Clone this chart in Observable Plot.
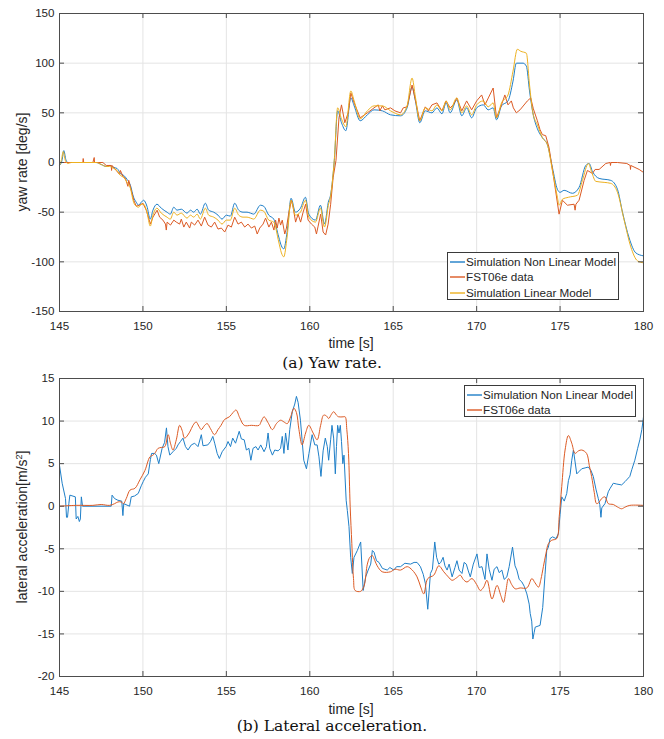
<!DOCTYPE html>
<html>
<head>
<meta charset="utf-8">
<script src="https://cdn.jsdelivr.net/npm/d3@7"></script>
<script src="https://cdn.jsdelivr.net/npm/@observablehq/plot@0.6"></script>
<style>
  html, body { margin: 0; padding: 0; background: #fff; }
  #page { position: relative; width: 664px; height: 739px; overflow: hidden; background: #fff; }
  .abs { position: absolute; }
  .lbl { position: absolute; font-family: "Liberation Sans", Arial, sans-serif; font-size: 14px; color: #262626; white-space: nowrap; transform: translate(-50%, -50%); }
  .cap { position: absolute; font-family: "DejaVu Serif", serif; font-size: 15.5px; color: #111; white-space: nowrap; transform: translate(-50%, -50%); }
  .legend { position: absolute; background: #fff; border: 1px solid #3a3a3a; box-sizing: border-box; font-family: "Liberation Sans", Arial, sans-serif; font-size: 11.7px; color: #262626; }
  .legend .row { position: absolute; left: 0; height: 14px; white-space: nowrap; }
  .legend svg { position: absolute; left: 2px; top: 0; }
  .legend .tx { position: absolute; left: 18px; top: 0; line-height: 14px; }
</style>
</head>
<body>
<div id="page">
  <div id="topPlot" class="abs" style="left:0;top:0"></div>
  <div id="botPlot" class="abs" style="left:0;top:365px"></div>
</div>
<script>
// ---------- shared axis data ----------
const timeTicks = [145, 150, 155, 160, 165, 170, 175, 180];
const yawTicks = [-150, -100, -50, 0, 50, 100, 150];
const latTicks = [-20, -15, -10, -5, 0, 5, 10, 15];
const seriesNames = ["Simulation Non Linear Model", "FST06e data", "Simulation Linear Model"];
const seriesColors = ["#1f7fc8", "#dc5a24", "#edb120"];

// ---------- (a) yaw rate [deg/s] : [time, value] ----------
const yawNonLinear = [[145.0,-3],[145.15,2],[145.26,12],[145.38,3],[145.5,0],[146.5,0],[147.2,0],[147.5,-2],[147.8,-4],[148.0,-3],[148.25,-5],[148.45,-6],[148.65,-11],[148.85,-13],[149.05,-17],[149.25,-23],[149.44,-35],[149.6,-40],[149.74,-43],[149.9,-40],[150.04,-38],[150.24,-44],[150.44,-57],[150.6,-48],[150.84,-42],[151.1,-46],[151.44,-50],[151.64,-52],[151.85,-45],[152.04,-48],[152.3,-47],[152.64,-51],[152.85,-48],[153.04,-50],[153.25,-47],[153.44,-52],[153.74,-41],[153.94,-48],[154.24,-50],[154.5,-53],[154.74,-57],[155.0,-53],[155.24,-54],[155.5,-41],[155.74,-48],[156.0,-50],[156.24,-50],[156.45,-51],[156.64,-52],[157.04,-43],[157.24,-44],[157.54,-53],[157.84,-57],[158.14,-75],[158.3,-84],[158.44,-87],[158.64,-70],[158.88,-36],[159.14,-50],[159.44,-46],[159.74,-35],[159.94,-52],[160.34,-58],[160.64,-43],[160.88,-62],[161.14,-38],[161.2,-36],[161.47,2],[161.67,52],[161.9,40],[162.16,32],[162.46,65],[162.66,57],[163.02,42],[163.45,48],[163.85,53],[164.35,52],[164.84,48],[165.44,47],[165.83,55],[166.13,76],[166.33,62],[166.59,40],[166.92,52],[167.32,50],[167.62,55],[167.92,49],[168.17,60],[168.41,50],[168.81,63],[169.11,47],[169.4,55],[169.7,45],[170.0,55],[170.4,58],[170.69,53],[170.99,55],[171.19,43],[171.49,57],[171.88,62],[172.18,82],[172.38,100],[172.78,100],[172.98,97],[173.17,72],[173.37,50],[173.64,34],[173.94,25],[174.24,18],[174.54,-5],[174.84,-27],[175.0,-30],[175.24,-28],[175.74,-31],[176.14,-25],[176.54,-3],[176.74,-1],[176.94,-9],[177.34,-16],[178.04,-18],[178.44,-27],[178.74,-50],[179.14,-76],[179.54,-91],[180.0,-94]];

const yawData = [[145.0,0],[146.0,0],[146.4,0],[146.42,4],[146.45,0],[147.0,0],[147.08,5],[147.1,0],[147.6,0],[147.8,-3],[148.1,-3],[148.12,-8],[148.15,-3],[148.4,-8],[148.6,-12],[148.65,-8],[148.8,-14],[148.95,-16],[149.1,-24],[149.15,-18],[149.3,-28],[149.45,-38],[149.6,-44],[149.8,-43],[150.0,-41],[150.2,-48],[150.45,-62],[150.6,-55],[150.85,-48],[151.0,-55],[151.2,-58],[151.35,-62],[151.4,-68],[151.45,-60],[151.65,-63],[151.85,-58],[152.0,-60],[152.2,-62],[152.3,-57],[152.45,-65],[152.6,-60],[152.8,-66],[152.9,-60],[153.1,-63],[153.3,-58],[153.5,-64],[153.7,-55],[153.9,-63],[154.1,-65],[154.3,-60],[154.5,-67],[154.7,-66],[154.9,-70],[155.1,-63],[155.3,-65],[155.5,-55],[155.7,-62],[155.9,-60],[156.1,-65],[156.3,-62],[156.5,-66],[156.7,-64],[156.85,-72],[157.0,-66],[157.2,-62],[157.35,-56],[157.55,-65],[157.7,-60],[157.85,-68],[157.95,-58],[158.05,-66],[158.15,-56],[158.25,-63],[158.35,-58],[158.5,-72],[158.6,-66],[158.75,-50],[158.9,-38],[159.0,-45],[159.15,-60],[159.3,-52],[159.45,-60],[159.6,-50],[159.75,-42],[159.9,-58],[160.1,-62],[160.3,-65],[160.4,-72],[160.5,-64],[160.65,-52],[160.8,-70],[160.95,-73],[161.1,-62],[161.25,-42],[161.4,-15],[161.57,2],[161.75,45],[161.9,58],[162.1,40],[162.3,50],[162.46,70],[162.66,60],[163.02,45],[163.45,50],[163.85,55],[164.1,58],[164.2,52],[164.35,57],[164.5,53],[164.84,55],[165.1,52],[165.44,50],[165.6,55],[165.83,56],[166.13,78],[166.33,63],[166.59,42],[166.92,56],[167.1,52],[167.32,58],[167.62,60],[167.92,52],[168.17,62],[168.41,55],[168.6,58],[168.81,65],[169.11,52],[169.4,62],[169.7,53],[170.0,62],[170.3,68],[170.5,58],[170.7,65],[170.99,75],[171.19,45],[171.49,58],[171.69,68],[171.88,58],[172.08,62],[172.2,55],[172.38,50],[172.6,53],[173.04,62],[173.24,65],[173.4,54],[173.64,42],[173.8,33],[173.94,28],[174.14,27],[174.34,15],[174.64,-18],[174.94,-52],[175.14,-38],[175.44,-43],[175.84,-42],[175.9,-48],[175.95,-42],[176.14,-38],[176.44,-18],[176.64,-8],[176.94,-11],[177.1,-7],[177.34,-7],[177.74,-1],[178.0,0],[178.02,-3],[178.05,0],[178.44,0],[179.0,-1],[179.2,-3],[179.22,-7],[179.24,-3],[179.74,-7],[180.0,-10]];

const yawLinear = [[145.0,-3],[145.12,3],[145.22,11],[145.35,2],[145.5,-1],[145.7,0],[147.2,0],[147.5,-2],[147.8,-4],[148.0,-4],[148.25,-6],[148.45,-8],[148.65,-13],[148.85,-15],[149.05,-20],[149.25,-26],[149.44,-40],[149.6,-44],[149.74,-45],[149.9,-42],[150.04,-42],[150.24,-50],[150.44,-64],[150.6,-53],[150.84,-46],[151.1,-51],[151.44,-55],[151.64,-57],[151.85,-50],[152.04,-53],[152.3,-51],[152.64,-56],[152.85,-53],[153.04,-55],[153.25,-52],[153.44,-57],[153.74,-46],[153.94,-53],[154.24,-55],[154.5,-58],[154.74,-62],[155.0,-58],[155.24,-58],[155.5,-46],[155.74,-53],[156.0,-55],[156.24,-55],[156.45,-56],[156.64,-57],[157.04,-48],[157.24,-49],[157.54,-58],[157.84,-60],[158.14,-80],[158.3,-91],[158.44,-95],[158.64,-75],[158.88,-38],[159.14,-53],[159.44,-50],[159.74,-38],[159.94,-55],[160.34,-60],[160.64,-46],[160.88,-65],[161.14,-41],[161.2,-38],[161.47,3],[161.67,55],[161.9,44],[162.16,36],[162.46,72],[162.66,62],[163.02,44],[163.45,52],[163.85,57],[164.35,57],[164.84,52],[165.44,48],[165.83,57],[166.13,85],[166.33,66],[166.59,42],[166.92,55],[167.32,52],[167.62,58],[167.92,52],[168.17,62],[168.41,53],[168.81,65],[169.11,50],[169.4,57],[169.7,48],[170.0,58],[170.4,62],[170.69,56],[170.99,60],[171.19,45],[171.49,60],[171.88,68],[172.18,92],[172.44,114],[172.64,112],[172.98,110],[173.17,78],[173.37,50],[173.64,38],[173.94,25],[174.24,18],[174.54,-8],[174.84,-35],[174.94,-43],[175.14,-37],[175.5,-35],[176.04,-33],[176.34,-18],[176.7,-1],[176.9,-10],[177.14,-19],[177.64,-20],[178.04,-21],[178.44,-30],[178.84,-58],[179.24,-85],[179.64,-99],[180.0,-101]];

// ---------- (b) lateral acceleration [m/s^2] : [time, value] ----------
const latNonLinear = [[145.0,4.8],[145.16,2.7],[145.36,0.9],[145.42,-1.3],[145.48,-1.3],[145.56,0.3],[145.62,1.3],[145.95,1.1],[146.0,-1.5],[146.1,-1.2],[146.19,-1.8],[146.25,-1.5],[146.31,1.1],[146.38,0],[148.1,0],[148.15,1.3],[148.3,0.9],[148.5,0.7],[148.73,0.6],[148.8,-1.1],[148.85,0.3],[149.2,0],[149.3,1.1],[149.5,1.2],[149.72,1.5],[149.9,2.4],[150.02,2.9],[150.15,3.4],[150.32,3.8],[150.45,5.5],[150.52,6.2],[150.7,6.2],[150.81,6.0],[150.95,5.0],[151.15,6.8],[151.3,7.5],[151.41,9.2],[151.5,7.0],[151.61,6.0],[151.8,6.4],[152.0,6.8],[152.1,7.2],[152.25,7.6],[152.4,8.0],[152.55,7.0],[152.7,6.6],[152.9,7.2],[153.1,7.4],[153.3,7.0],[153.5,8.4],[153.6,7.1],[153.89,7.2],[154.05,7.6],[154.19,8.2],[154.3,7.4],[154.45,6.2],[154.58,5.6],[154.75,6.4],[154.98,7.0],[155.1,7.6],[155.25,7.0],[155.38,8.0],[155.55,7.4],[155.77,8.8],[155.9,7.9],[156.07,7.8],[156.2,6.6],[156.35,6.8],[156.47,5.4],[156.6,6.8],[156.77,7.0],[156.9,6.6],[157.06,7.2],[157.26,6.4],[157.4,7.0],[157.5,8.6],[157.6,6.8],[157.76,6.0],[157.9,6.6],[158.1,6.5],[158.25,6.8],[158.35,8.2],[158.45,6.2],[158.55,8.6],[158.69,6.6],[158.8,9.0],[158.95,11.1],[159.1,12.0],[159.2,12.9],[159.3,12.2],[159.44,10.1],[159.55,7.5],[159.64,5.4],[159.8,4.4],[159.95,6.2],[160.14,8.4],[160.3,7.2],[160.44,7.2],[160.55,5.8],[160.67,3.5],[160.8,6.5],[160.93,8.0],[161.05,7.0],[161.13,5.4],[161.25,7.8],[161.33,9.5],[161.43,8.0],[161.53,3.8],[161.6,7.0],[161.67,9.5],[161.75,8.6],[161.83,9.5],[161.9,7.6],[161.98,5.0],[162.05,6.0],[162.18,0.7],[162.25,-0.5],[162.35,-2.4],[162.45,-6.0],[162.55,-7.9],[162.65,-6.0],[162.85,-5.2],[163.05,-4.2],[163.2,-9.9],[163.35,-8.3],[163.5,-7.5],[163.65,-6.8],[163.75,-5.2],[163.85,-5.4],[164.0,-6.4],[164.15,-6.6],[164.35,-7.3],[164.64,-7.5],[164.8,-7.2],[165.04,-7.5],[165.2,-7.1],[165.44,-7.1],[165.7,-6.7],[166.04,-6.8],[166.25,-6.6],[166.43,-6.6],[166.63,-7.1],[166.8,-8.0],[166.93,-9.1],[167.07,-12.1],[167.23,-7.9],[167.35,-7.4],[167.49,-4.2],[167.6,-6.0],[167.73,-6.8],[167.85,-6.6],[167.99,-6.0],[168.1,-7.0],[168.23,-7.5],[168.35,-6.8],[168.53,-8.3],[168.7,-7.2],[168.82,-6.4],[168.95,-7.5],[169.12,-7.9],[169.25,-6.6],[169.38,-6.8],[169.5,-7.6],[169.62,-8.3],[169.8,-6.8],[170.02,-5.6],[170.15,-7.2],[170.32,-7.1],[170.5,-8.6],[170.62,-5.6],[170.75,-7.4],[170.92,-8.7],[171.05,-7.4],[171.22,-7.1],[171.35,-7.8],[171.51,-7.5],[171.65,-8.6],[171.81,-8.3],[171.95,-7.1],[172.15,-4.8],[172.3,-7.0],[172.41,-7.5],[172.55,-8.6],[172.71,-8.9],[172.85,-9.4],[173.01,-10.3],[173.15,-11.5],[173.21,-12.6],[173.3,-13.5],[173.37,-15.6],[173.45,-14.8],[173.51,-14.2],[173.8,-14.0],[173.96,-11.9],[174.1,-8.0],[174.2,-5.2],[174.3,-4.8],[174.4,-3.8],[174.55,-3.6],[174.76,-3.8],[174.9,-3.2],[175.0,-1.0],[175.1,1.1],[175.25,0.6],[175.4,1.5],[175.5,3.0],[175.6,3.7],[175.7,5.4],[175.8,6.6],[175.9,5.2],[176.0,3.8],[176.15,4.1],[176.3,4.4],[176.5,4.5],[176.69,4.6],[176.85,4.2],[176.99,3.5],[177.15,2.0],[177.29,0.9],[177.38,0.2],[177.45,-1.3],[177.5,-0.2],[177.69,0.3],[177.89,1.7],[178.0,2.1],[178.19,2.7],[178.4,2.6],[178.69,2.5],[178.9,2.9],[179.18,3.5],[179.3,4.3],[179.48,5.4],[179.65,6.8],[179.78,7.8],[179.9,9.0],[180.0,10.5]];

const latData = [[145.0,0],[146.0,0.1],[147.0,0.1],[147.5,0.2],[148.0,0.1],[148.3,0.3],[148.5,0.5],[148.7,0.5],[148.83,0.3],[149.0,0.9],[149.23,1.9],[149.52,2.1],[149.82,3.1],[150.12,4.2],[150.42,5.8],[150.6,6.0],[150.71,6.2],[150.91,6.8],[151.1,6.9],[151.31,7.0],[151.51,8.4],[151.65,7.4],[151.8,6.6],[152.0,7.8],[152.2,9.5],[152.35,8.9],[152.5,8.0],[152.8,8.7],[153.0,9.5],[153.19,9.9],[153.35,9.4],[153.5,9.0],[153.7,9.5],[153.85,9.7],[154.05,9.1],[154.29,8.4],[154.5,9.0],[154.68,9.5],[154.9,10.2],[155.18,10.5],[155.4,11.0],[155.58,11.3],[155.8,10.4],[156.07,9.5],[156.5,9.5],[156.96,9.5],[157.1,10.0],[157.26,10.5],[157.5,9.8],[157.76,9.0],[158.0,9.7],[158.25,10.1],[158.45,9.9],[158.65,9.7],[158.85,10.5],[159.05,11.5],[159.2,11.0],[159.35,9.0],[159.54,7.2],[159.75,8.6],[159.94,9.5],[160.2,8.6],[160.44,7.8],[160.65,9.5],[160.83,10.7],[161.0,10.6],[161.13,10.3],[161.3,10.8],[161.43,11.1],[161.6,10.7],[161.73,10.5],[162.0,10.5],[162.12,10.5],[162.22,9.0],[162.32,6.2],[162.42,0],[162.52,-4.4],[162.62,-8.5],[162.72,-9.9],[163.05,-10],[163.2,-9.6],[163.29,-9.1],[163.45,-6.8],[163.6,-6.0],[163.75,-5.8],[163.9,-6.4],[164.04,-7.0],[164.34,-7.7],[164.84,-7.7],[165.1,-7.4],[165.44,-7.5],[165.84,-7.1],[166.14,-7.5],[166.43,-8.3],[166.65,-9.5],[166.83,-10.3],[167.07,-8.5],[167.43,-8.1],[167.73,-7.0],[168.03,-7.7],[168.3,-8.3],[168.53,-8.7],[168.8,-8.4],[169.02,-8.1],[169.2,-8.6],[169.42,-8.9],[169.72,-8.5],[170.0,-9.2],[170.22,-9.9],[170.42,-9.5],[170.62,-8.7],[170.92,-10.9],[171.22,-9.3],[171.45,-10.5],[171.61,-11.3],[171.75,-10.0],[171.91,-8.5],[172.1,-9.2],[172.31,-9.7],[172.61,-9.6],[173.01,-9.6],[173.31,-8.5],[173.5,-9.0],[173.71,-9.5],[173.85,-8.6],[174.0,-7.1],[174.15,-5.6],[174.3,-4.4],[174.5,-4.0],[174.8,-3.8],[174.95,-1.2],[175.1,2.3],[175.3,6.6],[175.5,8.3],[175.7,7.4],[175.9,6.2],[176.1,6.5],[176.3,6.6],[176.59,6.2],[176.75,4.8],[176.89,3.5],[177.05,1.6],[177.19,0.3],[177.35,0.5],[177.49,0.9],[177.69,1.1],[177.89,0.3],[178.19,0.2],[178.45,-0.1],[178.69,-0.3],[178.9,-0.1],[179.18,0.1],[180.0,0.1]];

// ---------- drawing ----------
const W = 664, ML = 59, MR = 21, MT = 13, MB = 25, H = 336;
const innerH = H - MT - MB, innerW = W - ML - MR;
const axisColor = "#4d4d4d", gridColor = "#e4e4e4";

function panel(yDomain, yTicks, series) {
  return Plot.plot({
    width: W, height: H, marginTop: MT, marginBottom: MB, marginLeft: ML, marginRight: MR,
    x: {domain: [145, 180]},
    y: {domain: yDomain},
    style: {fontFamily: "'Liberation Sans', Arial, sans-serif", fontSize: "11.6px", color: "#262626", background: "#fff"},
    marks: [
      Plot.ruleX(timeTicks, {x: d => d, stroke: gridColor}),
      Plot.ruleY(yTicks, {y: d => d, stroke: gridColor}),
      ...series.map(s => Plot.line(s.data, {x: d => d[0], y: d => d[1], stroke: s.color, strokeWidth: 1, curve: s.curve})),
      Plot.frame({stroke: axisColor, strokeWidth: 1}),
      Plot.ruleX(timeTicks, {x: d => d, insetTop: innerH - 5, stroke: axisColor}),
      Plot.ruleX(timeTicks, {x: d => d, insetBottom: innerH - 5, stroke: axisColor}),
      Plot.ruleY(yTicks, {y: d => d, insetRight: innerW - 5, stroke: axisColor}),
      Plot.ruleY(yTicks, {y: d => d, insetLeft: innerW - 5, stroke: axisColor}),
      Plot.axisX(timeTicks, {tickSize: 0, tickPadding: 10, label: null, tickFormat: d => String(d)}),
      Plot.axisY(yTicks, {tickSize: 0, tickPadding: 5, label: null, tickFormat: d => String(d)})
    ]
  });
}

document.getElementById("topPlot").appendChild(panel([-150, 150], yawTicks, [
  {data: yawNonLinear, color: seriesColors[0], curve: "monotone-x"},
  {data: yawData, color: seriesColors[1], curve: "linear"},
  {data: yawLinear, color: seriesColors[2], curve: "monotone-x"}
]));
document.getElementById("botPlot").appendChild(panel([-20, 15], latTicks, [
  {data: latNonLinear, color: seriesColors[0], curve: "linear"},
  {data: latData, color: seriesColors[1], curve: "catmull-rom"}
]));

// ---------- text labels ----------
const page = document.getElementById("page");
function addText(cls, html, x, y, rotate) {
  const d = document.createElement("div");
  d.className = cls;
  d.innerHTML = html;
  d.style.left = x + "px";
  d.style.top = y + "px";
  if (rotate) d.style.transform = "translate(-50%, -50%) rotate(-90deg)";
  page.appendChild(d);
}
addText("lbl", "time [s]", 351, 342.5);
addText("cap", "(a) Yaw rate.", 332, 362.5);
addText("lbl", "yaw rate [deg/s]", 22, 162, true);
addText("lbl", "time [s]", 351, 708.5);
addText("cap", "(b) Lateral acceleration.", 332, 726);
addText("lbl", "lateral acceleration[m/s<sup style='font-size:9px;vertical-align:5px;line-height:0'>2</sup>]", 22, 527, true);

// ---------- legends ----------
function addLegend(left, top, width, height, n, rowCenters) {
  const box = document.createElement("div");
  box.className = "legend";
  box.style.left = left + "px"; box.style.top = top + "px";
  box.style.width = width + "px"; box.style.height = height + "px";
  for (let i = 0; i < n; i++) {
    const row = document.createElement("div");
    row.className = "row";
    row.style.top = (rowCenters[i] - 7) + "px";
    row.innerHTML = `<svg width="15" height="14"><line x1="0" x2="15" y1="7" y2="7" stroke="${seriesColors[i]}" stroke-width="1.4"/></svg><div class="tx">${seriesNames[i]}</div>`;
    box.appendChild(row);
  }
  page.appendChild(box);
}
addLegend(447, 252, 172, 48, 3, [9, 24.3, 39.6]);
addLegend(464, 385, 172, 32, 2, [8.5, 23.5]);
</script>
</body>
</html>
